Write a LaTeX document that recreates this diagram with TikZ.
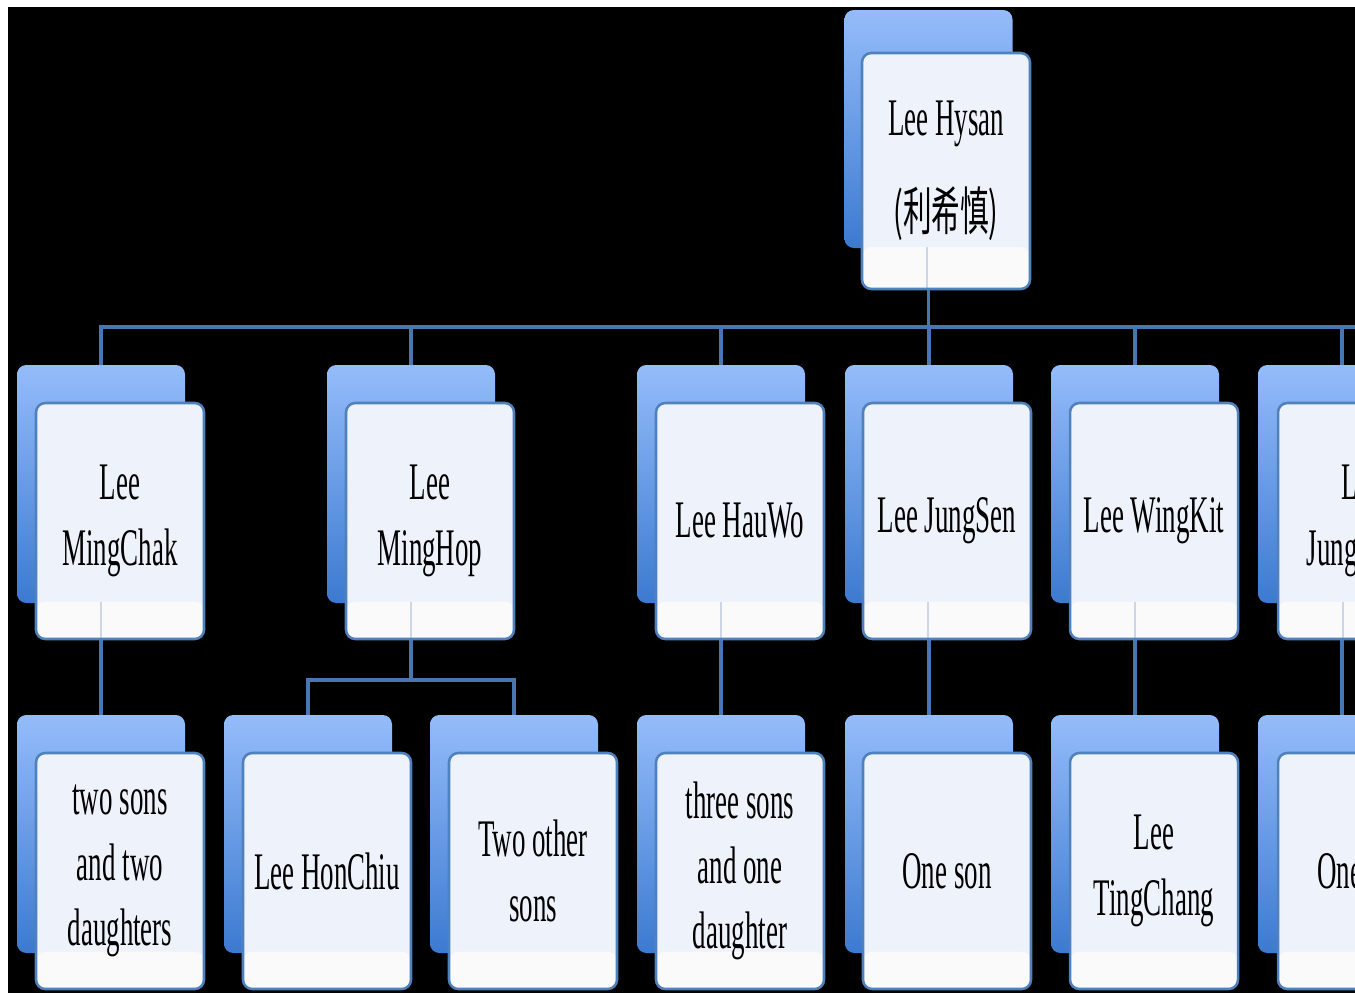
\documentclass[tikz,border=0pt]{standalone}
\usepackage{fontspec}
\newfontfamily\boxfont[FakeStretch=0.51]{Liberation Serif}
\newfontfamily\cjk[FakeStretch=0.55]{Noto Sans CJK SC}
\definecolor{bluetop}{RGB}{148,188,250}
\definecolor{bluebot}{RGB}{60,122,208}
\definecolor{boxline}{RGB}{79,129,189}
\definecolor{linecol}{RGB}{72,118,178}
\definecolor{frontfill}{RGB}{237,242,251}
\definecolor{stripfill}{RGB}{250,250,251}
\definecolor{faintline}{RGB}{205,214,228}
\tikzset{
  frontbase/.style={rectangle, rounded corners=7pt, minimum width=126pt, minimum height=177pt,
    draw=boxline, line width=1.9pt, fill=frontfill, text=black,
    align=center, inner sep=2pt,
    font=\boxfont\fontsize{39.6}{49}\selectfont},
  backbox/.style={rectangle, rounded corners=7pt, minimum width=126pt, minimum height=178.5pt,
    top color=bluetop, bottom color=bluebot, draw=none, inner sep=0pt},
  frontbox/.style={frontbase,
    path picture={
      \fill[stripfill] ([yshift=-1pt]path picture bounding box.south west) rectangle
        ([yshift=#1]path picture bounding box.south east);
    }},
  frontbox/.default=28pt,
  frontboxl/.style={frontbase,
    path picture={
      \fill[stripfill] ([yshift=-1pt]path picture bounding box.south west) rectangle
        ([yshift=#1]path picture bounding box.south east);
      \draw[faintline, line width=1.2pt] ([xshift=-14.25pt,yshift=#1]path picture bounding box.south)
        -- ([xshift=-14.25pt,yshift=-1pt]path picture bounding box.south);
    }},
  frontboxl/.default=28pt,
  link/.style={draw=linecol, line width=2.3pt}
}
\begin{document}
\begin{tikzpicture}[x=0.75pt,y=-0.75pt]
\useasboundingbox (0,0) rectangle (1355,992);
\fill[white] (0,0) rectangle (1355,992);
\clip (0,0) rectangle (1355,992);
\fill[black] (8,7) rectangle (1360,1000);

% helper coordinates
\coordinate (bus) at (0,327);
\coordinate (sub) at (0,680);
\coordinate (busend) at (1360,327);

% back box positions
\path (928.5,129) coordinate (rbp);
\foreach \n/\x in {1/101, 2/411, 3/721, 4/929, 5/1135, 6/1342} {
  \path (\x,484) coordinate (p\n);
}
\foreach \n/\x in {1/101, 2/308, 3/514, 4/721, 5/929, 6/1135, 7/1342} {
  \path (\x,834) coordinate (q\n);
}

% connectors
\draw[link] (rbp) -- (rbp |- bus) -| (p1);
\draw[link] (rbp) -- (rbp |- bus) -| (p2);
\draw[link] (rbp) -- (rbp |- bus) -| (p3);
\draw[link] (rbp) -- (rbp |- bus) -| (p4);
\draw[link] (rbp) -- (rbp |- bus) -| (p5);
\draw[link] (rbp) -- (rbp |- bus) -| (p6);
\draw[link] (rbp |- bus) -- (busend);
\draw[link] (p1) -- (q1);
\draw[link] (p2) -- (p2 |- sub) -| (q2);
\draw[link] (p2 |- sub) -| (q3);
\draw[link] (p3) -- (q4);
\draw[link] (p4) -- (q5);
\draw[link] (p5) -- (q6);
\draw[link] (p6) -- (q7);

% root
\node[backbox] (rb) at (rbp) {};
\node[frontboxl=31.5pt] (rf) at (946,171) {Lee Hysan\\[22pt]{\cjk\fontsize{39}{49}\selectfont (利希慎)}};

% level 2
\node[backbox] (b1) at (p1) {};
\node[frontboxl] (f1) at (120,521) {Lee\\MingChak};
\node[backbox] (b2) at (p2) {};
\node[frontboxl] (f2) at (430,521) {Lee\\MingHop};
\node[backbox] (b3) at (p3) {};
\node[frontboxl] (f3) at (740,521) {Lee HauWo};
\node[backbox] (b4) at (p4) {};
\node[frontboxl] (f4) at (947,521) {Lee JungSen};
\node[backbox] (b5) at (p5) {};
\node[frontboxl] (f5) at (1154,521) {Lee WingKit};
\node[backbox] (b6) at (p6) {};
\node[frontboxl] (f6) at (1362,521) {Lee\\JungKong};

% level 3
\node[backbox] (c1) at (q1) {};
\node[frontbox] (g1) at (120,871) {two sons\\and two\\daughters};
\node[backbox] (c2) at (q2) {};
\node[frontbox] (g2) at (327,871) {Lee HonChiu};
\node[backbox] (c3) at (q3) {};
\node[frontbox] (g3) at (533,871) {Two other\\sons};
\node[backbox] (c4) at (q4) {};
\node[frontbox] (g4) at (740,871) {three sons\\and one\\daughter};
\node[backbox] (c5) at (q5) {};
\node[frontbox] (g5) at (947,871) {One son};
\node[backbox] (c6) at (q6) {};
\node[frontbox] (g6) at (1154,871) {Lee\\TingChang};
\node[backbox] (c7) at (q7) {};
\node[frontbox] (g7) at (1362,871) {One son};
\end{tikzpicture}
\end{document}
